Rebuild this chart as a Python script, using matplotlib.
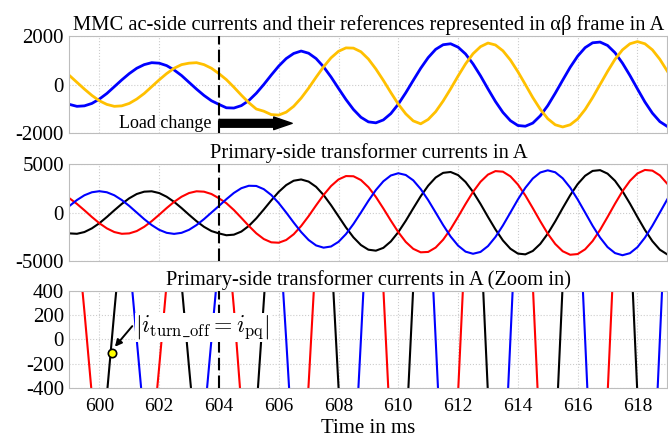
import numpy as np
import matplotlib
matplotlib.use('Agg')
import matplotlib.pyplot as plt

# sample times in ms (one value every 0.25 ms)
t_ms = np.linspace(599, 619, 81)

# MMC ac-side currents in the alpha-beta frame (A)
i_alpha = [-820, -900, -880, -780, -600, -370, -90, 190, 450, 670,
           820, 900, 880, 780, 600, 370, 90, -190, -450, -670,
           -820, -960, -970, -870, -660, -360, 0, 390, 760, 1070,
           1280, 1380, 1290, 1070, 730, 310, -160, -620, -1030, -1350,
           -1540, -1580, -1460, -1200, -810, -340, 170, 670, 1110, 1450,
           1640, 1680, 1540, 1260, 850, 360, -180, -700, -1150, -1490,
           -1690, -1720, -1590, -1290, -870, -360, 180, 710, 1170, 1520,
           1720, 1750, 1610, 1310, 880, 370, -180, -720, -1180, -1530,
           -1730]
i_beta = [370, 90, -190, -450, -670, -820, -900, -880, -780, -600,
          -370, -90, 190, 450, 670, 820, 880, 900, 820, 670,
          450, 200, -110, -440, -750, -1010, -1100, -1240, -1260, -1140,
          -900, -560, -150, 300, 730, 1100, 1370, 1510, 1500, 1350,
          1050, 640, 170, -330, -810, -1210, -1500, -1620, -1440, -1120,
          -680, -180, 350, 850, 1270, 1560, 1710, 1630, 1390, 1010,
          530, 0, -540, -1020, -1410, -1660, -1750, -1660, -1420, -1030,
          -540, 0, 540, 1040, 1430, 1680, 1770, 1680, 1430, 1040,
          550]

# primary-side transformer currents (A)
i_black = [-2150, -2190, -2010, -1630, -1100, -460, 230, 890, 1470, 1910,
           2150, 2190, 2010, 1630, 1100, 460, -230, -890, -1470, -1910,
           -2150, -2340, -2280, -1960, -1380, -600, 310, 1250, 2130, 2830,
           3280, 3410, 3190, 2650, 1810, 760, -390, -1540, -2560, -3350,
           -3830, -3930, -3640, -2980, -2020, -850, 430, 1680, 2770, 3610,
           4090, 4180, 3860, 3150, 2130, 890, -450, -1740, -2880, -3730,
           -4230, -4310, -3960, -3230, -2180, -910, 460, 1780, 2930, 3790,
           4290, 4370, 4010, 3270, 2200, 920, -460, -1790, -2950, -3830,
           -4320]
i_red = [1470, 890, 230, -460, -1100, -1630, -2010, -2190, -2150, -1910,
         -1470, -890, -230, 460, 1100, 1630, 2010, 2190, 2150, 1910,
         1470, 960, 260, -550, -1380, -2140, -2730, -3070, -3110, -2830,
         -2240, -1390, -370, 740, 1810, 2730, 3410, 3760, 3740, 3350,
         2620, 1610, 420, -830, -2020, -3030, -3740, -4100, -4060, -3610,
         -2800, -1710, -440, 880, 2130, 3170, 3910, 4270, 4210, 3730,
         2890, 1760, 450, -900, -2180, -3240, -3990, -4350, -4280, -3790,
         -2940, -1790, -460, 910, 2200, 3270, 4030, 4390, 4320, 3830,
         2960]
i_blue = [680, 1290, 1780, 2090, 2200, 2090, 1780, 1290, 680, 0,
          -680, -1290, -1780, -2090, -2200, -2090, -1780, -1290, -680, 0,
          680, 1380, 2020, 2510, 2760, 2740, 2410, 1810, 980, 0,
          -1030, -2010, -2830, -3390, -3620, -3500, -3020, -2220, -1180, 0,
          1210, 2320, 3220, 3820, 4050, 3870, 3320, 2420, 1280, 0,
          -1290, -2470, -3410, -4030, -4250, -4060, -3460, -2520, -1330, 0,
          1340, 2550, 3510, 4130, 4350, 4150, 3530, 2570, 1350, 0,
          -1360, -2580, -3560, -4180, -4400, -4190, -3570, -2590, -1360, 0,
          1370]

t_load = 604                   # load change instant
mark_t, mark_i = 600.42, -110  # turn-off current marker

plt.rcParams['font.family'] = ['Liberation Serif', 'DejaVu Serif']
plt.rcParams['mathtext.fontset'] = 'cm'
plt.rcParams['axes.unicode_minus'] = False

fig = plt.figure(figsize=(6.68, 4.38), dpi=100)
ax1 = fig.add_axes([0.104, 0.6963, 0.895, 0.2215])
ax2 = fig.add_axes([0.104, 0.404, 0.895, 0.2215])
ax3 = fig.add_axes([0.104, 0.1142, 0.895, 0.2215])


def style(ax, lim, ticks, title):
    ax.set_xlim(599, 619)
    ax.set_ylim(-lim, lim)
    ax.set_yticks(ticks)
    ax.set_xticks(range(600, 619, 2))
    ax.grid(True, color='#cccccc', linestyle=':', linewidth=0.8)
    for s in ax.spines.values():
        s.set_color('#bdbdbd')
    ax.tick_params(axis='y', length=0, labelsize=15, pad=4)
    ax.tick_params(axis='x', length=0, labelsize=14, pad=7)
    ax.set_title(title, fontsize=14.8, pad=4)


style(ax1, 2000, [-2000, 0, 2000],
      'MMC ac-side currents and their references represented in αβ frame in A')
style(ax2, 5000, [-5000, 0, 5000], 'Primary-side transformer currents in A')
style(ax3, 400, [-400, -200, 0, 200, 400],
      'Primary-side transformer currents in A (Zoom in)')
ax1.tick_params(labelbottom=False)
ax2.tick_params(labelbottom=False)

ax1.plot(t_ms, i_alpha, color='#0000ff', lw=2)
ax1.plot(t_ms, i_beta, color='#ffc000', lw=2)

for ax in (ax2, ax3):
    ax.plot(t_ms, i_black, color='black', lw=1.5)
    ax.plot(t_ms, i_red, color='#ff0000', lw=1.5)
    ax.plot(t_ms, i_blue, color='#0000ff', lw=1.5)

for ax in (ax1, ax2, ax3):
    ax.axvline(t_load, color='black', lw=1.5, ls=(0, (6, 2.5)), zorder=5)

# load change arrow
ax1.text(t_load - 0.25, -1600, 'Load change', fontsize=13, ha='right', va='center')
ax1.annotate('', xy=(606.45, -1600), xytext=(t_load, -1600),
             arrowprops=dict(arrowstyle='simple,head_length=0.95,head_width=0.65,tail_width=0.4',
                             color='black', shrinkA=0, shrinkB=0, mutation_scale=14),
             zorder=6)

# turn-off marker
ax3.plot(mark_t, mark_i, 'o', color='#ffff00', mec='black', mew=1.2, ms=6, zorder=8)
ax3.annotate('', xy=(mark_t + 0.1, mark_i + 50), xytext=(601.1, 110),
             arrowprops=dict(arrowstyle='-|>', color='black', lw=1.4,
                             shrinkA=0, shrinkB=0, mutation_scale=10), zorder=8)
ax3.text(601.2, 100, r'$\left|i_{\mathrm{turn\_off}} = i_{\mathrm{pq}}\right|$',
         fontsize=17, ha='left', va='center', zorder=7,
         bbox=dict(facecolor='white', edgecolor='none', pad=0.5))

ax3.set_xlabel('Time in ms', fontsize=15, labelpad=3)

fig.savefig('out.png', dpi=100)
